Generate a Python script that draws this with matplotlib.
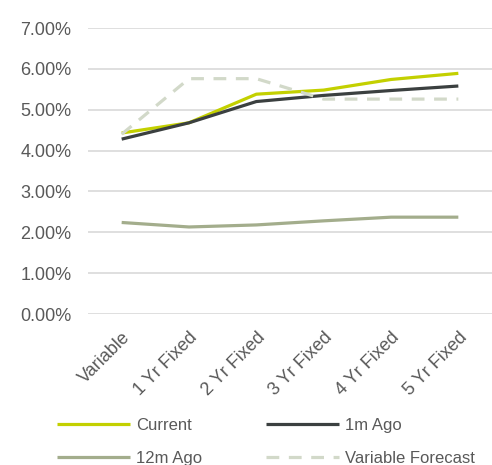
import matplotlib
matplotlib.use("Agg")
import matplotlib.pyplot as plt
from matplotlib.ticker import FuncFormatter, MultipleLocator

categories = ["Variable", "1 Yr Fixed", "2 Yr Fixed", "3 Yr Fixed", "4 Yr Fixed", "5 Yr Fixed"]
current = [4.43, 4.68, 5.38, 5.48, 5.74, 5.89]
one_month_ago = [4.28, 4.68, 5.20, 5.35, 5.47, 5.58]
twelve_months_ago = [2.24, 2.13, 2.18, 2.28, 2.37, 2.37]
variable_forecast = [4.40, 5.76, 5.76, 5.26, 5.26, 5.26]

plt.rcParams['font.family'] = ['Liberation Sans', 'DejaVu Sans']
txt = "#595959"

fig = plt.figure(figsize=(4.92, 4.65), dpi=100)
ax = fig.add_axes([88/492, 1 - 314/465, 1 - 88/492, (314 - 28)/465])

x = list(range(len(categories)))
lw = 2.3
l1, = ax.plot(x, current, color="#c3d000", lw=lw, label="Current", solid_capstyle="butt")
l2, = ax.plot(x, one_month_ago, color="#3b4040", lw=lw, label="1m Ago", solid_capstyle="butt")
l3, = ax.plot(x, twelve_months_ago, color="#a3ad8c", lw=lw, label="12m Ago", solid_capstyle="butt")
l4, = ax.plot(x, variable_forecast, color="#d2d9c9", lw=lw, dashes=(4, 3), label="Variable Forecast")

ax.set_xlim(-0.5, len(categories) - 0.5)
ax.set_ylim(0, 7)
ax.yaxis.set_major_locator(MultipleLocator(1))
ax.yaxis.set_major_formatter(FuncFormatter(lambda v, p: f"{v:.2f}%"))
ax.grid(axis="y", color="#d9d9d9", lw=1.2)
ax.set_axisbelow(True)
for s in ax.spines.values():
    s.set_visible(False)
ax.tick_params(length=0, labelsize=13, colors=txt)
ax.tick_params(axis="y", pad=12)
ax.tick_params(axis="x", pad=11)
ax.set_xticks(x)
ax.set_xticklabels(categories, rotation=45, ha="right", rotation_mode="anchor")

# row-wise order like the original legend
handles = [l1, l3, l2, l4]
fig.legend(handles, [h.get_label() for h in handles], ncol=2, loc="upper left",
           bbox_to_anchor=(42/492, 1 - 403/465), frameon=False, fontsize=12,
           labelcolor=txt, handlelength=4.4, handletextpad=0.35,
           columnspacing=3.8, labelspacing=1.05)

fig.savefig("out.png", dpi=100)
